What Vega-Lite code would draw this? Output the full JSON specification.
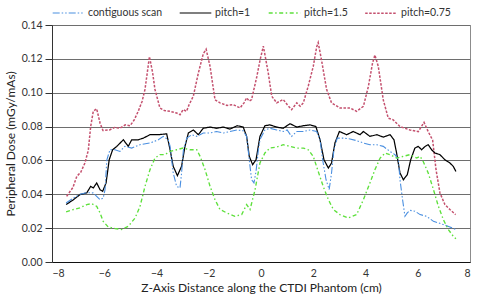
{
  "$schema": "https://vega.github.io/schema/vega-lite/v6.json",
  "autosize": "none",
  "padding": {"left": 52, "top": 25, "right": 10, "bottom": 38},
  "width": 418,
  "height": 237,
  "background": "white",
  "config": {
    "font": "Lato",
    "view": {"stroke": "#8c8c8c", "strokeWidth": 1},
    "axis": {"labelFont": "Lato", "titleFont": "Lato", "labelFontSize": 10.5, "titleFontSize": 12, "labelColor": "#333", "titleColor": "#222", "titleFontWeight": "normal", "domainColor": "#333", "tickColor": "#333"},
    "legend": {"labelFont": "Lato", "labelFontSize": 10.5, "labelColor": "#333"}
  },
  "data": {"values": [
    {"s":"pitch=0.75","x":-7.44,"y":0.0388},{"s":"pitch=0.75","x":-7.2,"y":0.044},{"s":"pitch=0.75","x":-7.05,"y":0.0506},{"s":"pitch=0.75","x":-6.9,"y":0.053},{"s":"pitch=0.75","x":-6.74,"y":0.0585},{"s":"pitch=0.75","x":-6.61,"y":0.066},{"s":"pitch=0.75","x":-6.52,"y":0.08},{"s":"pitch=0.75","x":-6.42,"y":0.089},{"s":"pitch=0.75","x":-6.29,"y":0.0905},{"s":"pitch=0.75","x":-6.16,"y":0.082},{"s":"pitch=0.75","x":-6.05,"y":0.0777},{"s":"pitch=0.75","x":-5.8,"y":0.078},{"s":"pitch=0.75","x":-5.6,"y":0.0795},{"s":"pitch=0.75","x":-5.4,"y":0.079},{"s":"pitch=0.75","x":-5.2,"y":0.081},{"s":"pitch=0.75","x":-5.01,"y":0.0805},{"s":"pitch=0.75","x":-4.85,"y":0.084},{"s":"pitch=0.75","x":-4.7,"y":0.089},{"s":"pitch=0.75","x":-4.55,"y":0.095},{"s":"pitch=0.75","x":-4.44,"y":0.102},{"s":"pitch=0.75","x":-4.27,"y":0.1213},{"s":"pitch=0.75","x":-4.15,"y":0.112},{"s":"pitch=0.75","x":-4.06,"y":0.102},{"s":"pitch=0.75","x":-3.87,"y":0.091},{"s":"pitch=0.75","x":-3.7,"y":0.0895},{"s":"pitch=0.75","x":-3.48,"y":0.089},{"s":"pitch=0.75","x":-3.23,"y":0.088},{"s":"pitch=0.75","x":-3.1,"y":0.087},{"s":"pitch=0.75","x":-2.98,"y":0.09},{"s":"pitch=0.75","x":-2.85,"y":0.089},{"s":"pitch=0.75","x":-2.75,"y":0.093},{"s":"pitch=0.75","x":-2.59,"y":0.098},{"s":"pitch=0.75","x":-2.4,"y":0.1115},{"s":"pitch=0.75","x":-2.21,"y":0.123},{"s":"pitch=0.75","x":-2.1,"y":0.1257},{"s":"pitch=0.75","x":-1.95,"y":0.1155},{"s":"pitch=0.75","x":-1.76,"y":0.0958},{"s":"pitch=0.75","x":-1.57,"y":0.094},{"s":"pitch=0.75","x":-1.3,"y":0.0925},{"s":"pitch=0.75","x":-1.07,"y":0.093},{"s":"pitch=0.75","x":-0.8,"y":0.091},{"s":"pitch=0.75","x":-0.65,"y":0.094},{"s":"pitch=0.75","x":-0.55,"y":0.097},{"s":"pitch=0.75","x":-0.45,"y":0.095},{"s":"pitch=0.75","x":-0.36,"y":0.096},{"s":"pitch=0.75","x":-0.16,"y":0.1095},{"s":"pitch=0.75","x":-0.04,"y":0.119},{"s":"pitch=0.75","x":0.09,"y":0.1275},{"s":"pitch=0.75","x":0.28,"y":0.1115},{"s":"pitch=0.75","x":0.41,"y":0.098},{"s":"pitch=0.75","x":0.6,"y":0.094},{"s":"pitch=0.75","x":0.85,"y":0.096},{"s":"pitch=0.75","x":1.0,"y":0.093},{"s":"pitch=0.75","x":1.17,"y":0.09},{"s":"pitch=0.75","x":1.37,"y":0.094},{"s":"pitch=0.75","x":1.5,"y":0.092},{"s":"pitch=0.75","x":1.62,"y":0.094},{"s":"pitch=0.75","x":1.81,"y":0.104},{"s":"pitch=0.75","x":2.0,"y":0.1155},{"s":"pitch=0.75","x":2.13,"y":0.127},{"s":"pitch=0.75","x":2.19,"y":0.1296},{"s":"pitch=0.75","x":2.32,"y":0.119},{"s":"pitch=0.75","x":2.51,"y":0.102},{"s":"pitch=0.75","x":2.7,"y":0.094},{"s":"pitch=0.75","x":3.02,"y":0.091},{"s":"pitch=0.75","x":3.41,"y":0.091},{"s":"pitch=0.75","x":3.66,"y":0.089},{"s":"pitch=0.75","x":3.92,"y":0.092},{"s":"pitch=0.75","x":4.11,"y":0.1037},{"s":"pitch=0.75","x":4.27,"y":0.1175},{"s":"pitch=0.75","x":4.36,"y":0.1223},{"s":"pitch=0.75","x":4.49,"y":0.1155},{"s":"pitch=0.75","x":4.68,"y":0.0958},{"s":"pitch=0.75","x":4.87,"y":0.085},{"s":"pitch=0.75","x":5.06,"y":0.084},{"s":"pitch=0.75","x":5.32,"y":0.08},{"s":"pitch=0.75","x":5.7,"y":0.078},{"s":"pitch=0.75","x":6.02,"y":0.077},{"s":"pitch=0.75","x":6.24,"y":0.0825},{"s":"pitch=0.75","x":6.4,"y":0.077},{"s":"pitch=0.75","x":6.57,"y":0.072},{"s":"pitch=0.75","x":6.7,"y":0.0545},{"s":"pitch=0.75","x":6.85,"y":0.0408},{"s":"pitch=0.75","x":7.04,"y":0.0339},{"s":"pitch=0.75","x":7.23,"y":0.031},{"s":"pitch=0.75","x":7.45,"y":0.028},

    {"s":"pitch=1","x":-7.46,"y":0.0339},{"s":"pitch=1","x":-7.18,"y":0.0368},{"s":"pitch=1","x":-6.93,"y":0.0398},{"s":"pitch=1","x":-6.67,"y":0.0408},{"s":"pitch=1","x":-6.52,"y":0.0447},{"s":"pitch=1","x":-6.42,"y":0.0437},{"s":"pitch=1","x":-6.29,"y":0.0467},{"s":"pitch=1","x":-6.16,"y":0.0427},{"s":"pitch=1","x":-6.06,"y":0.0418},{"s":"pitch=1","x":-5.93,"y":0.0467},{"s":"pitch=1","x":-5.81,"y":0.0604},{"s":"pitch=1","x":-5.68,"y":0.0663},{"s":"pitch=1","x":-5.52,"y":0.0683},{"s":"pitch=1","x":-5.27,"y":0.0722},{"s":"pitch=1","x":-5.08,"y":0.0683},{"s":"pitch=1","x":-4.95,"y":0.0722},{"s":"pitch=1","x":-4.7,"y":0.0722},{"s":"pitch=1","x":-4.5,"y":0.0732},{"s":"pitch=1","x":-4.25,"y":0.0752},{"s":"pitch=1","x":-3.93,"y":0.0752},{"s":"pitch=1","x":-3.61,"y":0.0757},{"s":"pitch=1","x":-3.48,"y":0.0663},{"s":"pitch=1","x":-3.36,"y":0.0565},{"s":"pitch=1","x":-3.2,"y":0.051},{"s":"pitch=1","x":-3.04,"y":0.0565},{"s":"pitch=1","x":-2.91,"y":0.0683},{"s":"pitch=1","x":-2.78,"y":0.0762},{"s":"pitch=1","x":-2.59,"y":0.078},{"s":"pitch=1","x":-2.4,"y":0.0752},{"s":"pitch=1","x":-2.21,"y":0.079},{"s":"pitch=1","x":-1.95,"y":0.0797},{"s":"pitch=1","x":-1.7,"y":0.079},{"s":"pitch=1","x":-1.44,"y":0.0797},{"s":"pitch=1","x":-1.19,"y":0.0785},{"s":"pitch=1","x":-0.91,"y":0.0805},{"s":"pitch=1","x":-0.68,"y":0.0797},{"s":"pitch=1","x":-0.55,"y":0.0742},{"s":"pitch=1","x":-0.45,"y":0.0624},{"s":"pitch=1","x":-0.32,"y":0.0575},{"s":"pitch=1","x":-0.19,"y":0.0604},{"s":"pitch=1","x":-0.04,"y":0.0742},{"s":"pitch=1","x":0.15,"y":0.0805},{"s":"pitch=1","x":0.34,"y":0.081},{"s":"pitch=1","x":0.6,"y":0.0797},{"s":"pitch=1","x":0.85,"y":0.079},{"s":"pitch=1","x":1.11,"y":0.0817},{"s":"pitch=1","x":1.37,"y":0.0797},{"s":"pitch=1","x":1.62,"y":0.0805},{"s":"pitch=1","x":1.88,"y":0.081},{"s":"pitch=1","x":2.1,"y":0.08},{"s":"pitch=1","x":2.26,"y":0.0722},{"s":"pitch=1","x":2.41,"y":0.0604},{"s":"pitch=1","x":2.58,"y":0.0555},{"s":"pitch=1","x":2.7,"y":0.0585},{"s":"pitch=1","x":2.83,"y":0.0703},{"s":"pitch=1","x":3.0,"y":0.0771},{"s":"pitch=1","x":3.28,"y":0.0752},{"s":"pitch=1","x":3.53,"y":0.0771},{"s":"pitch=1","x":3.79,"y":0.0752},{"s":"pitch=1","x":3.92,"y":0.0771},{"s":"pitch=1","x":4.17,"y":0.0742},{"s":"pitch=1","x":4.43,"y":0.0752},{"s":"pitch=1","x":4.68,"y":0.0738},{"s":"pitch=1","x":4.94,"y":0.0752},{"s":"pitch=1","x":5.09,"y":0.0722},{"s":"pitch=1","x":5.19,"y":0.0644},{"s":"pitch=1","x":5.32,"y":0.0526},{"s":"pitch=1","x":5.45,"y":0.0486},{"s":"pitch=1","x":5.6,"y":0.0516},{"s":"pitch=1","x":5.73,"y":0.0604},{"s":"pitch=1","x":5.89,"y":0.0673},{"s":"pitch=1","x":6.02,"y":0.0683},{"s":"pitch=1","x":6.15,"y":0.0663},{"s":"pitch=1","x":6.28,"y":0.0683},{"s":"pitch=1","x":6.4,"y":0.0693},{"s":"pitch=1","x":6.53,"y":0.0663},{"s":"pitch=1","x":6.66,"y":0.0644},{"s":"pitch=1","x":6.85,"y":0.0634},{"s":"pitch=1","x":7.04,"y":0.0604},{"s":"pitch=1","x":7.23,"y":0.0585},{"s":"pitch=1","x":7.36,"y":0.0565},{"s":"pitch=1","x":7.46,"y":0.0535},

    {"s":"contiguous scan","x":-7.46,"y":0.0349},{"s":"contiguous scan","x":-7.18,"y":0.0378},{"s":"contiguous scan","x":-6.93,"y":0.04},{"s":"contiguous scan","x":-6.67,"y":0.041},{"s":"contiguous scan","x":-6.42,"y":0.0408},{"s":"contiguous scan","x":-6.29,"y":0.0388},{"s":"contiguous scan","x":-6.16,"y":0.0368},{"s":"contiguous scan","x":-6.04,"y":0.0378},{"s":"contiguous scan","x":-5.97,"y":0.0427},{"s":"contiguous scan","x":-5.9,"y":0.0604},{"s":"contiguous scan","x":-5.78,"y":0.0663},{"s":"contiguous scan","x":-5.59,"y":0.0663},{"s":"contiguous scan","x":-5.4,"y":0.0653},{"s":"contiguous scan","x":-5.21,"y":0.0683},{"s":"contiguous scan","x":-4.95,"y":0.0673},{"s":"contiguous scan","x":-4.63,"y":0.0693},{"s":"contiguous scan","x":-4.25,"y":0.0703},{"s":"contiguous scan","x":-3.93,"y":0.0722},{"s":"contiguous scan","x":-3.74,"y":0.0742},{"s":"contiguous scan","x":-3.55,"y":0.0722},{"s":"contiguous scan","x":-3.48,"y":0.0683},{"s":"contiguous scan","x":-3.36,"y":0.0526},{"s":"contiguous scan","x":-3.23,"y":0.0447},{"s":"contiguous scan","x":-3.1,"y":0.0437},{"s":"contiguous scan","x":-3.04,"y":0.0526},{"s":"contiguous scan","x":-2.97,"y":0.0663},{"s":"contiguous scan","x":-2.84,"y":0.0732},{"s":"contiguous scan","x":-2.65,"y":0.0752},{"s":"contiguous scan","x":-2.46,"y":0.0742},{"s":"contiguous scan","x":-2.21,"y":0.0762},{"s":"contiguous scan","x":-1.95,"y":0.0762},{"s":"contiguous scan","x":-1.7,"y":0.0771},{"s":"contiguous scan","x":-1.44,"y":0.0762},{"s":"contiguous scan","x":-1.19,"y":0.0771},{"s":"contiguous scan","x":-0.91,"y":0.078},{"s":"contiguous scan","x":-0.68,"y":0.0775},{"s":"contiguous scan","x":-0.55,"y":0.0742},{"s":"contiguous scan","x":-0.45,"y":0.0604},{"s":"contiguous scan","x":-0.36,"y":0.0486},{"s":"contiguous scan","x":-0.27,"y":0.0467},{"s":"contiguous scan","x":-0.19,"y":0.0535},{"s":"contiguous scan","x":-0.1,"y":0.0663},{"s":"contiguous scan","x":-0.04,"y":0.0722},{"s":"contiguous scan","x":0.15,"y":0.078},{"s":"contiguous scan","x":0.34,"y":0.079},{"s":"contiguous scan","x":0.6,"y":0.078},{"s":"contiguous scan","x":0.85,"y":0.0771},{"s":"contiguous scan","x":1.0,"y":0.078},{"s":"contiguous scan","x":1.17,"y":0.0742},{"s":"contiguous scan","x":1.37,"y":0.0771},{"s":"contiguous scan","x":1.62,"y":0.0771},{"s":"contiguous scan","x":1.88,"y":0.078},{"s":"contiguous scan","x":2.13,"y":0.0771},{"s":"contiguous scan","x":2.26,"y":0.0722},{"s":"contiguous scan","x":2.36,"y":0.0604},{"s":"contiguous scan","x":2.49,"y":0.0486},{"s":"contiguous scan","x":2.61,"y":0.0428},{"s":"contiguous scan","x":2.7,"y":0.0526},{"s":"contiguous scan","x":2.79,"y":0.0663},{"s":"contiguous scan","x":2.92,"y":0.0732},{"s":"contiguous scan","x":3.15,"y":0.0732},{"s":"contiguous scan","x":3.41,"y":0.0727},{"s":"contiguous scan","x":3.66,"y":0.0717},{"s":"contiguous scan","x":3.92,"y":0.0703},{"s":"contiguous scan","x":4.17,"y":0.0693},{"s":"contiguous scan","x":4.43,"y":0.0693},{"s":"contiguous scan","x":4.68,"y":0.0683},{"s":"contiguous scan","x":4.94,"y":0.0653},{"s":"contiguous scan","x":5.13,"y":0.0634},{"s":"contiguous scan","x":5.26,"y":0.0604},{"s":"contiguous scan","x":5.32,"y":0.0486},{"s":"contiguous scan","x":5.42,"y":0.0368},{"s":"contiguous scan","x":5.51,"y":0.027},{"s":"contiguous scan","x":5.6,"y":0.029},{"s":"contiguous scan","x":5.7,"y":0.0305},{"s":"contiguous scan","x":5.89,"y":0.03},{"s":"contiguous scan","x":6.09,"y":0.028},{"s":"contiguous scan","x":6.34,"y":0.027},{"s":"contiguous scan","x":6.6,"y":0.024},{"s":"contiguous scan","x":6.79,"y":0.0231},{"s":"contiguous scan","x":6.98,"y":0.0221},{"s":"contiguous scan","x":7.23,"y":0.0207},{"s":"contiguous scan","x":7.46,"y":0.0192},

    {"s":"pitch=1.5","x":-7.46,"y":0.0296},{"s":"pitch=1.5","x":-7.18,"y":0.031},{"s":"pitch=1.5","x":-6.93,"y":0.032},{"s":"pitch=1.5","x":-6.67,"y":0.0339},{"s":"pitch=1.5","x":-6.48,"y":0.0345},{"s":"pitch=1.5","x":-6.29,"y":0.0329},{"s":"pitch=1.5","x":-6.16,"y":0.029},{"s":"pitch=1.5","x":-6.04,"y":0.024},{"s":"pitch=1.5","x":-5.85,"y":0.0207},{"s":"pitch=1.5","x":-5.59,"y":0.0198},{"s":"pitch=1.5","x":-5.33,"y":0.0192},{"s":"pitch=1.5","x":-5.08,"y":0.0211},{"s":"pitch=1.5","x":-4.82,"y":0.026},{"s":"pitch=1.5","x":-4.63,"y":0.0329},{"s":"pitch=1.5","x":-4.44,"y":0.0447},{"s":"pitch=1.5","x":-4.25,"y":0.0545},{"s":"pitch=1.5","x":-4.06,"y":0.0614},{"s":"pitch=1.5","x":-3.87,"y":0.0634},{"s":"pitch=1.5","x":-3.68,"y":0.0634},{"s":"pitch=1.5","x":-3.48,"y":0.0653},{"s":"pitch=1.5","x":-3.23,"y":0.0663},{"s":"pitch=1.5","x":-2.98,"y":0.0673},{"s":"pitch=1.5","x":-2.72,"y":0.0663},{"s":"pitch=1.5","x":-2.46,"y":0.0663},{"s":"pitch=1.5","x":-2.33,"y":0.0624},{"s":"pitch=1.5","x":-2.14,"y":0.0545},{"s":"pitch=1.5","x":-1.95,"y":0.0447},{"s":"pitch=1.5","x":-1.76,"y":0.0368},{"s":"pitch=1.5","x":-1.57,"y":0.031},{"s":"pitch=1.5","x":-1.31,"y":0.029},{"s":"pitch=1.5","x":-1.0,"y":0.027},{"s":"pitch=1.5","x":-0.74,"y":0.028},{"s":"pitch=1.5","x":-0.55,"y":0.0339},{"s":"pitch=1.5","x":-0.42,"y":0.031},{"s":"pitch=1.5","x":-0.23,"y":0.0425},{"s":"pitch=1.5","x":-0.04,"y":0.0585},{"s":"pitch=1.5","x":0.15,"y":0.0644},{"s":"pitch=1.5","x":0.34,"y":0.0673},{"s":"pitch=1.5","x":0.6,"y":0.0679},{"s":"pitch=1.5","x":0.85,"y":0.0693},{"s":"pitch=1.5","x":1.11,"y":0.0683},{"s":"pitch=1.5","x":1.37,"y":0.0673},{"s":"pitch=1.5","x":1.62,"y":0.0673},{"s":"pitch=1.5","x":1.81,"y":0.0663},{"s":"pitch=1.5","x":2.0,"y":0.0624},{"s":"pitch=1.5","x":2.19,"y":0.0535},{"s":"pitch=1.5","x":2.38,"y":0.0447},{"s":"pitch=1.5","x":2.58,"y":0.0368},{"s":"pitch=1.5","x":2.77,"y":0.031},{"s":"pitch=1.5","x":3.02,"y":0.028},{"s":"pitch=1.5","x":3.34,"y":0.026},{"s":"pitch=1.5","x":3.66,"y":0.028},{"s":"pitch=1.5","x":3.92,"y":0.0368},{"s":"pitch=1.5","x":4.17,"y":0.0467},{"s":"pitch=1.5","x":4.36,"y":0.0545},{"s":"pitch=1.5","x":4.56,"y":0.0614},{"s":"pitch=1.5","x":4.75,"y":0.0644},{"s":"pitch=1.5","x":4.94,"y":0.0634},{"s":"pitch=1.5","x":5.19,"y":0.0614},{"s":"pitch=1.5","x":5.45,"y":0.0624},{"s":"pitch=1.5","x":5.7,"y":0.0634},{"s":"pitch=1.5","x":5.96,"y":0.0614},{"s":"pitch=1.5","x":6.09,"y":0.0624},{"s":"pitch=1.5","x":6.21,"y":0.0594},{"s":"pitch=1.5","x":6.4,"y":0.0526},{"s":"pitch=1.5","x":6.6,"y":0.0428},{"s":"pitch=1.5","x":6.79,"y":0.0329},{"s":"pitch=1.5","x":6.98,"y":0.025},{"s":"pitch=1.5","x":7.17,"y":0.0192},{"s":"pitch=1.5","x":7.36,"y":0.0152},{"s":"pitch=1.5","x":7.46,"y":0.0137}
  ]},
  "mark": {"type": "line", "clip": true},
  "encoding": {
    "x": {"field": "x", "type": "quantitative",
      "scale": {"domain": [-8, 8], "nice": false},
      "axis": {"values": [-8, -6, -4, -2, 0, 2, 4, 6, 8], "grid": false, "ticks": false, "labelPadding": 6, "title": "Z-Axis Distance along the CTDI Phantom (cm)", "titlePadding": 4, "domainColor": "#111"}},
    "y": {"field": "y", "type": "quantitative",
      "scale": {"domain": [0, 0.14], "nice": false},
      "axis": {"values": [0, 0.02, 0.04, 0.06, 0.08, 0.1, 0.12, 0.14], "format": ".2f", "grid": true, "gridColor": "#6e6e6e", "gridWidth": 1, "gridOpacity": 1, "tickSize": 7, "labelPadding": 3, "title": "Peripheral Dose (mGy/mAs)", "titlePadding": 4}},
    "color": {"field": "s", "type": "nominal",
      "scale": {"domain": ["contiguous scan", "pitch=1", "pitch=1.5", "pitch=0.75"], "range": ["#4a8fe0", "#000000", "#5ee03c", "#c4506e"]},
      "legend": {"orient": "top", "direction": "horizontal", "title": null, "offset": 6, "symbolType": "stroke", "symbolSize": 1000, "symbolStrokeWidth": 1.5, "columnPadding": 14, "labelOffset": 3}},
    "strokeDash": {"field": "s", "type": "nominal",
      "scale": {"domain": ["contiguous scan", "pitch=1", "pitch=1.5", "pitch=0.75"], "range": [[7, 2, 1.5, 2, 1.5, 2], [1, 0], [4, 2.5, 1.5, 2.5], [2.5, 1.5]]}},
    "strokeWidth": {"field": "s", "type": "nominal",
      "scale": {"domain": ["contiguous scan", "pitch=1", "pitch=1.5", "pitch=0.75"], "range": [1.1, 1.5, 1.1, 1.1]}, "legend": null}
  }
}
